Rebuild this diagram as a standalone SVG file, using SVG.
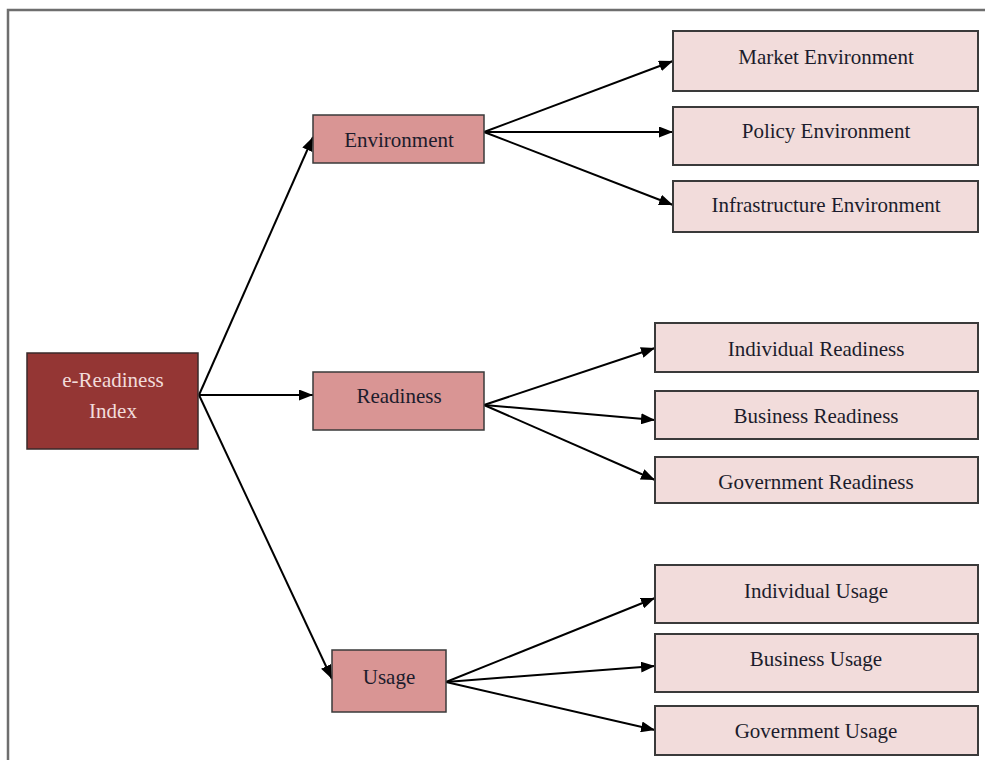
<svg xmlns="http://www.w3.org/2000/svg" width="985" height="760" viewBox="0 0 985 760">
<defs>
<marker id="a" viewBox="0 0 14 11" refX="14" refY="5.5" markerWidth="14" markerHeight="11" markerUnits="userSpaceOnUse" orient="auto"><path d="M0,0 L14,5.5 L0,11 z" fill="#000"/></marker>
</defs>
<style>
.root{fill:#943634;stroke:#3a2a2a;stroke-width:1.5}
.mid{fill:#d99594;stroke:#3a3a3a;stroke-width:1.5}
.leaf{fill:#f2dcdb;stroke:#3a3a3a;stroke-width:2}
text{font-family:"Liberation Serif","Times New Roman",serif;font-size:21px;fill:#1c1c2c;text-anchor:middle}
.rt{fill:#f2dcdb}
.c{stroke:#000;stroke-width:2;fill:none;marker-end:url(#a)}
</style>
<rect width="985" height="760" fill="#fff"/>
<path d="M8,760 L8,10 L985,10" fill="none" stroke="#6e6e6e" stroke-width="2.5"/>
<g id="connectors">
<line class="c" x1="199" y1="395" x2="313" y2="137"/>
<line class="c" x1="199" y1="395" x2="313" y2="395"/>
<line class="c" x1="199" y1="395" x2="332" y2="679"/>
<line class="c" x1="484" y1="132" x2="673" y2="61"/>
<line class="c" x1="484" y1="132" x2="673" y2="132"/>
<line class="c" x1="484" y1="132" x2="673" y2="205"/>
<line class="c" x1="484" y1="405" x2="655" y2="348"/>
<line class="c" x1="484" y1="405" x2="655" y2="420"/>
<line class="c" x1="484" y1="405" x2="655" y2="480"/>
<line class="c" x1="446" y1="682" x2="655" y2="598"/>
<line class="c" x1="446" y1="682" x2="655" y2="666"/>
<line class="c" x1="446" y1="682" x2="655" y2="730"/>
</g>
<g id="root"><rect class="root" x="27" y="353" width="171" height="96"/><text class="rt" x="113" y="387">e-Readiness</text><text class="rt" x="113" y="418">Index</text></g>
<g id="environment"><rect class="mid" x="313" y="115" width="171" height="48"/><text x="399" y="147">Environment</text></g>
<g id="readiness"><rect class="mid" x="313" y="372" width="171" height="58"/><text x="399" y="403">Readiness</text></g>
<g id="usage"><rect class="mid" x="332" y="650" width="114" height="62"/><text x="389" y="684">Usage</text></g>
<g id="market"><rect class="leaf" x="673" y="31" width="305" height="60"/><text x="826" y="64">Market Environment</text></g>
<g id="policy"><rect class="leaf" x="673" y="107" width="305" height="58"/><text x="826" y="138">Policy Environment</text></g>
<g id="infra"><rect class="leaf" x="673" y="181" width="305" height="51"/><text x="826" y="212">Infrastructure Environment</text></g>
<g id="indread"><rect class="leaf" x="655" y="323" width="323" height="49"/><text x="816" y="356">Individual Readiness</text></g>
<g id="busread"><rect class="leaf" x="655" y="391" width="323" height="48"/><text x="816" y="423">Business Readiness</text></g>
<g id="govread"><rect class="leaf" x="655" y="457" width="323" height="46"/><text x="816" y="489">Government Readiness</text></g>
<g id="indusage"><rect class="leaf" x="655" y="565" width="323" height="58"/><text x="816" y="598">Individual Usage</text></g>
<g id="bususage"><rect class="leaf" x="655" y="634" width="323" height="58"/><text x="816" y="666">Business Usage</text></g>
<g id="govusage"><rect class="leaf" x="655" y="706" width="323" height="49"/><text x="816" y="738">Government Usage</text></g>
</svg>
